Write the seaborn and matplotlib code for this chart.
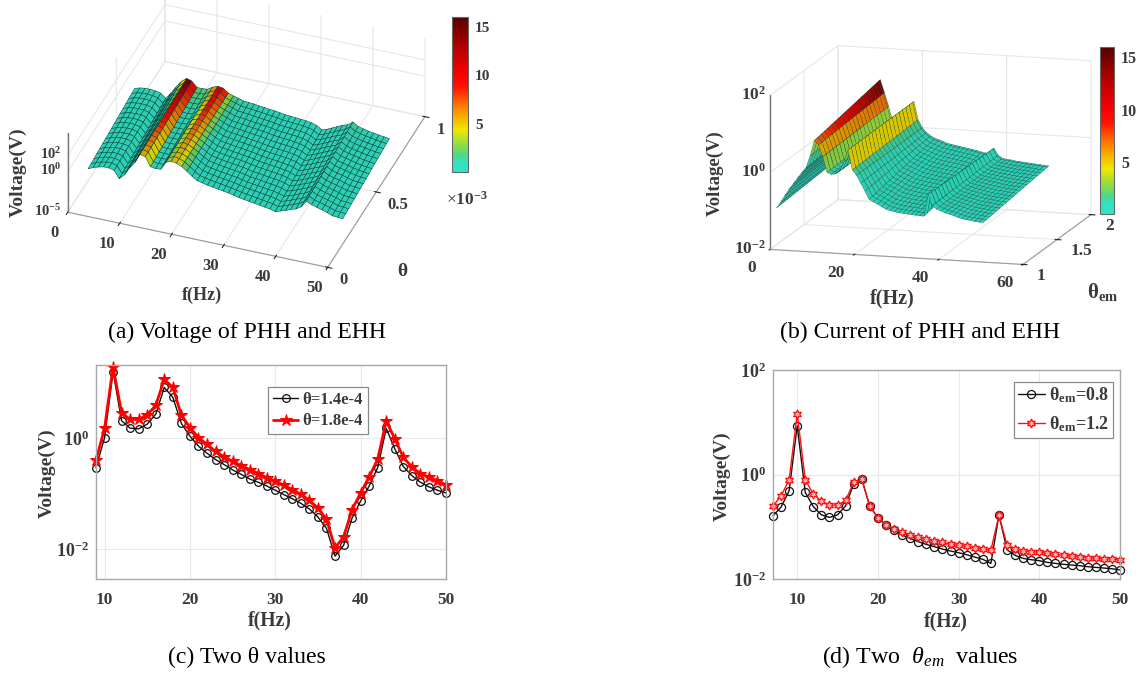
import numpy as np
import pandas as pd
import seaborn as sns
import matplotlib
matplotlib.use('Agg')
import matplotlib.pyplot as plt
from matplotlib.cm import ScalarMappable
from matplotlib.colors import LinearSegmentedColormap, Normalize
from mpl_toolkits.mplot3d import proj3d

# Panel (a): log10 of voltage along the near and far edge of the surface
freq_a = list(range(1, 51))
logv_a_front = [-2.4, -2.1, -1.9, -1.75, -1.75, -1.9, -2.8, -2.2, -1.2, -0.4,
                0.75, 0.6, -0.5, -0.6, -0.55, 0.45, 0.7, 0.6, 0.34, -0.1,
                -0.6, -1.0, -1.15, -1.3, -1.4, -1.5, -1.6, -1.7, -1.85, -2.0,
                -2.1, -2.2, -2.3, -2.4, -2.5, -2.6, -2.8, -2.57, -2.37, -2.1,
                -1.9, -1.5, -0.7, -0.97, -1.17, -1.34, -1.54, -1.8, -1.83, -1.9]
logv_a_back = [-1.4, -1.2, -1.1, -1.1, -1.15, -1.3, -1.8, -1.0, -0.1, 0.7,
               1.2, 1.0, 0.35, 0.35, 0.4, 0.8, 1.05, 0.95, 0.48, 0.26,
               0.1, -0.1, -0.15, -0.2, -0.3, -0.35, -0.45, -0.5, -0.6, -0.7,
               -0.75, -0.8, -0.85, -0.9, -1.0, -1.2, -1.6, -1.4, -1.1, -0.8,
               -0.5, -0.3, 0.18, -0.25, -0.4, -0.55, -0.65, -0.75, -0.85, -0.93]
theta_a = [0.155, 0.185, 0.215, 0.245, 0.275, 0.305, 0.335, 0.365, 0.395, 0.425,
           0.455, 0.485, 0.515, 0.545, 0.575, 0.605, 0.635]
ticks_a_f = [0, 10, 20, 30, 40, 50]
ticks_a_theta = [0, 0.5, 1]
ticks_a_z = [-5, 0, 2]

# Panel (b): same idea
freq_b = list(range(1, 51))
logv_b_front = [-0.96, -0.8, -0.62, -0.45, -0.3, -0.15, 0.0, 0.13, 0.45, 0.85,
                0.75, 0.45, 0.05, 0.0, 0.02, 0.1, 0.35, 0.66, 0.15, 0.02,
                -0.18, -0.38, -0.59, -0.65, -0.7, -0.76, -0.82, -0.85, -0.87, -0.89,
                -0.9, -0.91, -0.92, -0.93, -0.94, -0.94, -0.37, -0.65, -0.74, -0.78,
                -0.82, -0.85, -0.88, -0.92, -0.95, -0.97, -0.98, -1.0, -1.01, -1.02]
logv_b_back = [-0.85, -0.7, -0.52, -0.35, -0.2, -0.05, 0.1, 0.25, 0.55, 1.18,
               0.85, 0.5, 0.1, 0.05, 0.05, 0.12, 0.35, 0.67, 0.2, 0.0,
               -0.12, -0.2, -0.26, -0.29, -0.33, -0.37, -0.39, -0.41, -0.43, -0.45,
               -0.47, -0.49, -0.51, -0.54, -0.56, -0.56, -0.42, -0.6, -0.67, -0.69,
               -0.7, -0.72, -0.73, -0.74, -0.75, -0.76, -0.77, -0.78, -0.79, -0.8]
theta_b = [1.03, 1.08, 1.13, 1.18, 1.23, 1.28, 1.33, 1.38, 1.43, 1.48, 1.53,
           1.58, 1.63, 1.68, 1.73, 1.78, 1.83, 1.88, 1.93, 1.98, 2.0]
ticks_b_f = [0, 20, 40, 60]
ticks_b_theta = [1, 1.5, 2]
ticks_b_z = [-2, 0, 2]

# Panel (c)
freq_c = list(range(9, 51))
volt_c_low = [0.293, 1.0, 15.3, 2.02, 1.49, 1.45, 1.76, 2.66, 8.0, 5.3, 1.81, 1.07, 0.71, 0.53,
              0.408, 0.332, 0.266, 0.222, 0.183, 0.16, 0.137, 0.115, 0.096, 0.081, 0.067,
              0.053, 0.038, 0.0238, 0.0076, 0.0118, 0.0366, 0.0738, 0.137, 0.293, 1.47, 0.634,
              0.305, 0.21, 0.16, 0.132, 0.115, 0.103]
volt_c_high = [0.397, 1.47, 18.8, 2.81, 2.13, 2.13, 2.59, 3.81, 11.2, 8.0, 2.55, 1.53, 1.01, 0.76,
               0.576, 0.456, 0.381, 0.318, 0.27, 0.229, 0.194, 0.167, 0.141, 0.118, 0.097,
               0.076, 0.055, 0.0346, 0.0107, 0.0167, 0.0516, 0.103, 0.2, 0.414, 2.02, 0.96,
               0.45, 0.301, 0.229, 0.196, 0.171, 0.143]

# Panel (d)
freq_d = list(range(7, 51))
volt_d_low = [0.162, 0.238, 0.488, 8.5, 0.453, 0.241, 0.169, 0.151, 0.169, 0.252, 0.663, 0.814,
              0.245, 0.149, 0.106, 0.0863, 0.0693, 0.0598, 0.0517, 0.0459, 0.0415, 0.0374,
              0.0343, 0.0318, 0.0292, 0.0263, 0.0238, 0.0199, 0.167, 0.0364, 0.0283, 0.0248,
              0.0234, 0.0224, 0.0208, 0.0199, 0.0191, 0.0185, 0.018, 0.0172, 0.0167, 0.0162,
              0.0157, 0.0149]
volt_d_high = [0.248, 0.391, 0.791, 14.4, 0.791, 0.421, 0.309, 0.259, 0.259, 0.319, 0.714, 0.814,
               0.245, 0.149, 0.109, 0.0916, 0.0791, 0.0703, 0.0635, 0.0581, 0.054, 0.0502,
               0.0459, 0.044, 0.0421, 0.0397, 0.0369, 0.0353, 0.167, 0.0447, 0.038, 0.0348,
               0.0333, 0.0324, 0.0309, 0.0296, 0.0283, 0.0275, 0.0263, 0.0256, 0.0248, 0.0241,
               0.0241, 0.0231]

W, H = 1139, 677
TXT = '#3a3a3a'

sns.set_style('white')
plt.rcParams['font.family'] = ['Liberation Serif', 'DejaVu Sans']
plt.rcParams['mathtext.fontset'] = 'custom'
plt.rcParams['mathtext.rm'] = 'Liberation Serif'
plt.rcParams['mathtext.it'] = 'Liberation Serif:italic'
plt.rcParams['mathtext.bf'] = 'Liberation Serif:bold'

fig = plt.figure(figsize=(W / 100, H / 100), dpi=100)


def px_rect(left, top, right, bottom):
    return [left / W, 1 - bottom / H, (right - left) / W, (bottom - top) / H]


def label(x, y, s, size=13.5, weight='bold', color=TXT, **kw):
    fig.text(x / W, 1 - y / H, s, fontsize=size, fontweight=weight, color=color,
             ha='center', va='center', **kw)


# Colour scale
stops = [(0.0, '#2fe6c8'), (1.0 / 16, '#33e2c0'), (1.6 / 16, '#48d890'), (2.8 / 16, '#90dc48'),
         (4.3 / 16, '#efe800'), (5.5 / 16, '#f5b800'), (7.0 / 16, '#ff7000'), (8.8 / 16, '#ff1000'),
         (10.5 / 16, '#f00000'), (13.0 / 16, '#b00000'), (1.0, '#560000')]
volt_cmap = LinearSegmentedColormap.from_list('volt', stops)
volt_norm = Normalize(0, 16)


def surface_panel(rect, elev, azim, aspect, xr, yr, zr, freq, front, back, thetas, edge_lw):
    ax = fig.add_axes(rect, projection='3d')
    ax.set_proj_type('ortho')
    ax.view_init(elev=elev, azim=azim)
    ax.set_box_aspect(aspect)
    ax.patch.set_alpha(0)

    front = np.array(front)
    back = np.array(back)
    thetas = np.array(thetas)
    weight = (thetas - thetas[0]) / (thetas[-1] - thetas[0])
    F, T = np.meshgrid(freq, thetas)
    Z = front + np.outer(weight, back - front)
    colors = volt_cmap(volt_norm(10 ** Z))
    colors[..., :3] *= 0.9
    ax.plot_surface(F, T, Z, facecolors=colors, rstride=1, cstride=1, shade=False,
                    linewidth=edge_lw, edgecolor='#063a34', antialiased=True)

    ax.set_xlim(*xr, view_margin=0)
    ax.set_ylim(*yr, view_margin=0)
    ax.set_zlim(*zr, view_margin=0)

    for axis in (ax.xaxis, ax.yaxis, ax.zaxis):
        axis.set_pane_color((1, 1, 1, 0))
        axis.pane.set_edgecolor('#e4e4e4')
        axis._axinfo['grid']['color'] = '#e6e6e6'
        axis._axinfo['grid']['linewidth'] = 0.8
        axis.line.set_color('#9a9a9a')
    ax.zaxis.line.set_color((0, 0, 0, 0))
    ax.zaxis._axinfo['tick']['inward_factor'] = 0
    ax.zaxis._axinfo['tick']['outward_factor'] = 0
    return ax


def text3d(ax, x, y, z, s, size, ha='center'):
    # project by hand so the label is an ordinary 2D annotation
    x2, y2, _ = proj3d.proj_transform(x, y, z, ax.get_proj())
    ax.annotate(s, (x2, y2), fontsize=size, fontweight='bold', color=TXT, ha=ha, va='center',
                annotation_clip=False)


def style_ticks(ax, xsize, ysize):
    for t in ax.get_xticklabels():
        t.set_fontsize(xsize)
        t.set_fontweight('bold')
        t.set_color(TXT)
    for t in ax.get_yticklabels():
        t.set_fontsize(ysize)
        t.set_fontweight('bold')
        t.set_color(TXT)


def pow10(e):
    return '$\\mathbf{10^{%d}}$' % e


# (a)
ax_a = surface_panel([44 / W, 350 / H, 394 / W, 394 / H], 35, -69.7, (277, 280, 97),
                     (0, 50), (0, 1), (-5, 4.8), freq_a, logv_a_front, logv_a_back, theta_a, 0.35)
ax_a.set_xticks(ticks_a_f)
ax_a.set_yticks(ticks_a_theta)
ax_a.set_zticks(ticks_a_z)
ax_a.set_xticklabels([])
ax_a.set_yticklabels([])
ax_a.set_zticklabels([])
ax_a.plot([0, 0], [0, 0], [-5, 4.8], color='#777777', lw=1)
for f in ticks_a_f:
    text3d(ax_a, f, -0.135, -5, str(f), 12)
for th in ticks_a_theta:
    text3d(ax_a, 52.2, th, -6.3, '%g' % th, 12, ha='left')
for z in ticks_a_z:
    text3d(ax_a, -1.3, 0, z, pow10(z), 10.5, ha='right')

# (b)
ax_b = surface_panel([734 / W, 325.4 / H, 382.8 / W, 382.8 / H], 12.05, -74.1, (263, 248, 157.5),
                     (0, 60), (1, 2), (-2, 2), freq_b, logv_b_front, logv_b_back, theta_b, 0.2)
ax_b.set_xticks(ticks_b_f)
ax_b.set_yticks(ticks_b_theta)
ax_b.set_zticks(ticks_b_z)
ax_b.set_xticklabels([])
ax_b.set_yticklabels([])
ax_b.set_zticklabels([])
ax_b.plot([0, 0], [1, 1], [-2, 2], color='#777777', lw=1)
for f in ticks_b_f:
    text3d(ax_b, f, 0.73, -2.14, str(f), 12.5)
for th in ticks_b_theta:
    text3d(ax_b, 63.3, th, -2.28, '%g' % th, 12.5, ha='left')
for z in ticks_b_z:
    text3d(ax_b, -1.0, 1, z, pow10(z), 12.5, ha='right')

# colour bars
for rect, size, pad in [(px_rect(452, 17, 468, 172), 11, 5), (px_rect(1100, 47, 1114, 214), 11.5, 5)]:
    cax = fig.add_axes(rect)
    cb = fig.colorbar(ScalarMappable(norm=volt_norm, cmap=volt_cmap), cax=cax)
    cb.set_ticks([5, 10, 15])
    cb.ax.tick_params(length=0, pad=pad)
    cb.outline.set_edgecolor('#666666')
    cb.outline.set_linewidth(0.8)
    for t in cb.ax.get_yticklabels():
        t.set_fontsize(size)
        t.set_fontweight('bold')
        t.set_color(TXT)


def line_panel(rect, freq, low, high, xlim, ylim, xticks, yticks, ylabels, low_kw, high_kw,
               legend_box, legend_kw):
    ax = fig.add_axes(rect)
    df = pd.DataFrame({'f': freq, 'low': low, 'high': high})
    sns.lineplot(data=df, x='f', y='low', ax=ax, errorbar=None, clip_on=False, **low_kw)
    sns.lineplot(data=df, x='f', y='high', ax=ax, errorbar=None, clip_on=False, **high_kw)
    ax.set_yscale('log')
    ax.set_xlim(*xlim)
    ax.set_ylim(*ylim)
    ax.set_xticks(xticks)
    ax.set_yticks(yticks)
    ax.set_yticklabels(ylabels)
    ax.minorticks_off()
    ax.set_xlabel('')
    ax.set_ylabel('')
    ax.grid(True, color='#e8e8e8', lw=0.8)
    ax.set_axisbelow(True)
    for s in ax.spines.values():
        s.set_color('#a8a8a8')
        s.set_linewidth(1.0)
    ax.tick_params(axis='x', direction='in', length=3, width=0.8, color='#888888', pad=9)
    ax.tick_params(axis='y', direction='in', length=3, width=0.8, color='#888888', pad=5)
    style_ticks(ax, 12.5, 13)
    leg = ax.legend(loc='upper left', bbox_to_anchor=legend_box, borderaxespad=0, frameon=True,
                    fancybox=False, edgecolor='#8a8a8a', framealpha=1, **legend_kw)
    leg.get_frame().set_linewidth(0.9)
    for t in leg.get_texts():
        t.set_color(TXT)
    return ax


def axes_frac(rect_px, x, y):
    left, top, right, bottom = rect_px
    return ((x - left) / (right - left), (bottom - y) / (bottom - top))


rect_c = (96, 365, 446, 579)
line_panel(px_rect(*rect_c), freq_c, volt_c_low, volt_c_high, (9, 50), (10 ** -2.53, 10 ** 1.305),
           [10, 20, 30, 40, 50], [1e-2, 1], [pow10(-2), pow10(0)],
           dict(color='#111111', lw=1.0, marker='o', ms=5.5, mfc='none', mec='#111111', mew=0.9,
                label='θ=1.4e-4'),
           dict(color='#ff0000', lw=2.0, marker='*', ms=9, mfc='#ff0000', mec='#ff0000',
                label='θ=1.8e-4'),
           axes_frac(rect_c, 268, 387),
           dict(prop={'weight': 'bold', 'size': 12}, handlelength=1.5, handletextpad=0.25,
                borderpad=0.3, labelspacing=0.32))

rect_d = (773, 370, 1120, 579)
line_panel(px_rect(*rect_d), freq_d, volt_d_low, volt_d_high, (7, 50), (1e-2, 1e2),
           [10, 20, 30, 40, 50], [1e-2, 1, 1e2], [pow10(-2), pow10(0), pow10(2)],
           dict(color='#111111', lw=1.0, marker='o', ms=5.8, mfc='none', mec='#111111', mew=0.9,
                label='$\\mathbf{θ_{em}}$=0.8'),
           dict(color='#ff1010', lw=1.0, marker=(6, 1, 0), ms=6.5, mfc='#ffb0b0', mec='#ff1010', mew=0.9,
                label='$\\mathbf{θ_{em}}$=1.2'),
           axes_frac(rect_d, 1014, 382),
           dict(prop={'weight': 'bold', 'size': 13}, handlelength=1.5, handletextpad=0.25,
                borderpad=0.2, labelspacing=0.5))

# axis labels
label(202, 295, 'f(Hz)', size=13)
label(18, 172, 'Voltage(V)', size=14, rotation=90)
label(402, 271, 'θ', size=14)
label(467, 200, '$\\times\\mathbf{10^{-3}}$', size=12.5, weight='normal')
label(892, 298, 'f(Hz)', size=14.5)
label(715, 173, 'Voltage(V)', rotation=90)
label(1103, 292, '$\\mathbf{θ_{em}}$', size=15)
label(270, 620, 'f(Hz)', size=14.2)
label(47, 473, 'Voltage(V)', size=14, rotation=90)
label(946, 621, 'f(Hz)', size=14.2)
label(722, 476, 'Voltage(V)', size=14, rotation=90)

# captions
label(247, 332, '(a) Voltage of PHH and EHH', size=17.1, weight='normal', color='black')
label(920, 332, '(b) Current of PHH and EHH', size=17.1, weight='normal', color='black')
label(247, 657, '(c) Two θ values', size=17.1, weight='normal', color='black')
label(920, 657, '(d) Two  $\\mathit{θ_{em}}$  values', size=17.3, weight='normal', color='black')

fig.savefig('out.png', dpi=100)
